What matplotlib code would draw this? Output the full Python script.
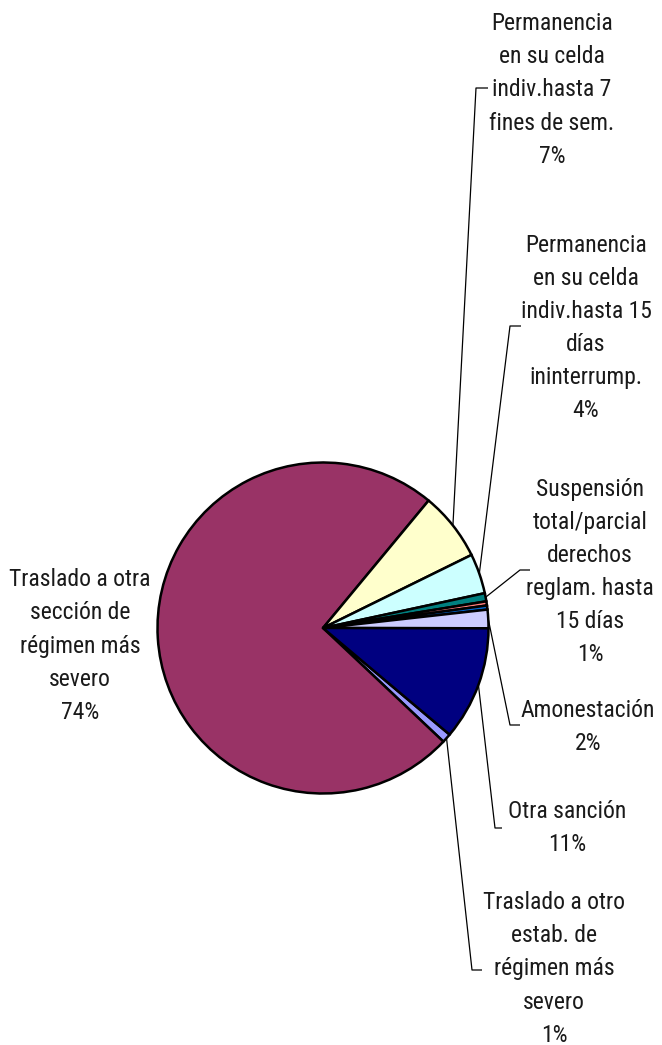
import numpy as np
import matplotlib
matplotlib.use('Agg')
import matplotlib.pyplot as plt

# slices in drawing order (clockwise)
labels = ['Traslado a otro\nestab. de\nrégimen más\nsevero\n1%',
          'Traslado a otra\nsección de\nrégimen más\nsevero\n74%',
          'Permanencia\nen su celda\nindiv.hasta 7\nfines de sem.\n7%',
          'Permanencia\nen su celda\nindiv.hasta 15\ndías\nininterrump.\n4%',
          'Suspensión\ntotal/parcial\nderechos\nreglam. hasta\n15 días\n1%',
          '',
          '',
          'Amonestación\n2%',
          'Otra sanción\n11%']
values = [0.9, 73.9, 6.7, 3.9, 0.8, 0.4, 0.4, 1.8, 11.1]
colors = ['#9999FF', '#993366', '#FFFFCC', '#CCFFFF', '#008080',
          '#FF8080', '#0066CC', '#CCCCFF', '#000080']

W, H = 662, 1045
cx, cy, R = 323, H - 628, 165.5

fig = plt.figure(figsize=(W / 100, H / 100), dpi=100)
ax = fig.add_axes([0, 0, 1, 1])
wedges, _ = ax.pie(values, colors=colors, startangle=-40.1, counterclock=False,
                   center=(cx, cy), radius=R,
                   wedgeprops=dict(edgecolor='black', linewidth=1.8))
ax.set_xlim(0, W)
ax.set_ylim(0, H)
ax.set_aspect('equal')
ax.axis('off')

font = ['Roboto Condensed', 'Archivo Narrow', 'DejaVu Sans']

# label text centre, leader corner (pixel coords from top), tick end x
layout = {
    0: ((554, 969), (472, 970), 482),
    1: ((80, 646), None, None),
    2: ((552, 90), (476, 88), 488),
    3: ((586, 328), (510, 326), 521),
    4: ((590, 572), (520, 570), 530),
    7: ((588, 727), (510, 725), 520),
    8: ((567, 828), (495, 828), 502),
}

for i, (txt_pos, corner, tick_x) in layout.items():
    w = wedges[i]
    ang = np.deg2rad((w.theta1 + w.theta2) / 2)
    ax.text(txt_pos[0], H - txt_pos[1], labels[i], ha='center', va='center',
            fontsize=17, family=font, color='#1a1a1a', linespacing=1.56)
    if corner is not None:
        px, py = cx + R * np.cos(ang), cy + R * np.sin(ang)
        ax.plot([px, corner[0], tick_x], [py, H - corner[1], H - corner[1]],
                color='black', lw=0.9, solid_capstyle='butt')

fig.savefig('out.png', dpi=100)
